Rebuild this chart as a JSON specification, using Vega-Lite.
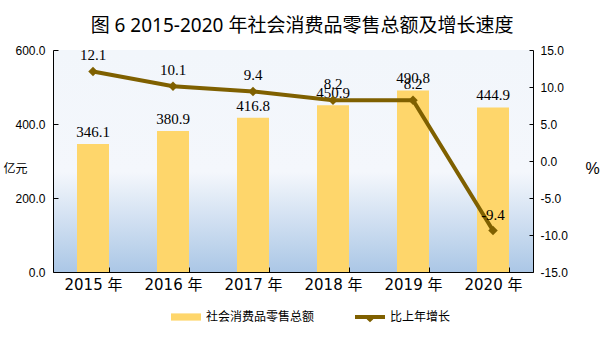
{
  "$schema": "https://vega.github.io/schema/vega-lite/v6.json",
  "width": 480,
  "height": 222,
  "autosize": "none",
  "padding": {"left": 53, "top": 50, "right": 72, "bottom": 68},
  "background": "white",
  "view": {
    "stroke": null,
    "fill": {
      "gradient": "linear", "x1": 0, "y1": 0, "x2": 0, "y2": 1,
      "stops": [
        {"offset": 0, "color": "#f2f6fb"},
        {"offset": 0.55, "color": "#f4f7fc"},
        {"offset": 1, "color": "#abc7e6"}
      ]
    }
  },
  "title": {
    "text": "图 6 2015-2020 年社会消费品零售总额及增长速度",
    "font": "Noto Sans, Noto Sans CJK SC",
    "fontSize": 19,
    "fontWeight": "normal",
    "color": "#000000",
    "anchor": "middle",
    "dx": 9,
    "offset": 8
  },
  "data": {
    "values": [
      {"year": "2015 年", "amount": 346.1, "growth": 12.1},
      {"year": "2016 年", "amount": 380.9, "growth": 10.1},
      {"year": "2017 年", "amount": 416.8, "growth": 9.4},
      {"year": "2018 年", "amount": 450.9, "growth": 8.2},
      {"year": "2019 年", "amount": 490.8, "growth": 8.2},
      {"year": "2020 年", "amount": 444.9, "growth": -9.4}
    ]
  },
  "encoding": {
    "x": {
      "field": "year", "type": "nominal", "sort": null,
      "scale": {"paddingInner": 0.6, "paddingOuter": 0.3},
      "axis": {
        "title": null, "labelAngle": 0, "tickBand": "extent",
        "tickSize": -5, "tickColor": "#000000", "domainColor": "#000000",
        "labelPadding": 10, "labelFont": "DejaVu Sans, Noto Sans CJK SC",
        "labelFontSize": 15, "labelColor": "#000000"
      }
    }
  },
  "layer": [
    {
      "encoding": {
        "y": {
          "field": "amount", "type": "quantitative",
          "scale": {"domain": [0, 600], "nice": false, "zero": false},
          "axis": {
            "title": "亿元", "titleAngle": 0, "titleX": -38, "titleY": 118,
            "titleAlign": "center", "titleBaseline": "middle",
            "titleFont": "Noto Sans CJK SC", "titleFontSize": 12, "titleFontWeight": "normal", "titleColor": "#000000",
            "values": [0, 200, 400, 600], "grid": false, "labelOverlap": false,
            "tickSize": -5, "labelPadding": 13, "tickColor": "#000000", "domainColor": "#000000",
            "labelFont": "Liberation Sans", "labelFontSize": 12, "labelColor": "#000000",
            "labelExpr": "format(datum.value, '.1f')"
          }
        }
      },
      "layer": [
        {
          "mark": {"type": "bar", "color": "#fed66b"},
          "encoding": {
            "color": {
              "datum": "社会消费品零售总额", "type": "nominal",
              "legend": {
                "encode": {
                  "symbols": {
                    "update": {
                      "shape": {"signal": "datum.value === '比上年增长' ? 'M-1,-0.13L1,-0.13L1,0.13L-1,0.13Z M0,-0.05L0.22,0.15L0,0.35L-0.22,0.15Z' : 'M-1,-0.24L1,-0.24L1,0.24L-1,0.24Z'"},
                      "fill": {"signal": "datum.value === '比上年增长' ? '#7f6000' : '#fed66b'"},
                      "stroke": {"value": "transparent"},
                      "strokeWidth": {"value": 0},
                      "opacity": {"value": 1},
                      "size": {"value": 900}
                    }
                  }
                }
              }
            }
          }
        },
        {
          "mark": {"type": "text", "baseline": "alphabetic", "dy": -7, "font": "Liberation Serif", "fontSize": 15, "color": "#000000"},
          "encoding": {
            "text": {"field": "amount", "type": "nominal"}
          }
        }
      ]
    },
    {
      "encoding": {
        "y": {
          "field": "growth", "type": "quantitative",
          "scale": {"domain": [-15, 15], "nice": false, "zero": false},
          "axis": {
            "orient": "right",
            "title": "%", "titleAngle": 0, "titleX": 59, "titleY": 118,
            "titleAlign": "center", "titleBaseline": "middle",
            "titleFont": "Liberation Sans", "titleFontSize": 16, "titleFontWeight": "normal", "titleColor": "#000000",
            "values": [-15, -10, -5, 0, 5, 10, 15], "grid": false, "labelOverlap": false,
            "tickSize": -4, "labelPadding": 11, "tickColor": "#000000", "domainColor": "#000000",
            "labelFont": "Liberation Sans", "labelFontSize": 12, "labelColor": "#000000",
            "labelExpr": "replace(format(datum.value, '.1f'), '−', '-')"
          }
        }
      },
      "layer": [
        {
          "mark": {"type": "line", "color": "#7f6000", "strokeWidth": 4, "point": {"shape": "diamond", "size": 90, "filled": true, "color": "#7f6000"}},
          "encoding": {
            "color": {
              "datum": "比上年增长", "type": "nominal",
              "legend": {
                "encode": {
                  "symbols": {
                    "update": {
                      "shape": {"signal": "datum.value === '比上年增长' ? 'M-1,-0.13L1,-0.13L1,0.13L-1,0.13Z M0,-0.05L0.22,0.15L0,0.35L-0.22,0.15Z' : 'M-1,-0.24L1,-0.24L1,0.24L-1,0.24Z'"},
                      "fill": {"signal": "datum.value === '比上年增长' ? '#7f6000' : '#fed66b'"},
                      "stroke": {"value": "transparent"},
                      "strokeWidth": {"value": 0},
                      "opacity": {"value": 1},
                      "size": {"value": 900}
                    }
                  }
                }
              }
            }
          }
        },
        {
          "mark": {"type": "text", "baseline": "alphabetic", "dy": -11, "font": "Liberation Serif", "fontSize": 15, "color": "#000000"},
          "encoding": {
            "text": {"field": "growth", "type": "nominal"}
          }
        }
      ]
    }
  ],
  "resolve": {"scale": {"y": "independent"}, "axis": {"y": "independent"}},
  "config": {
    "axis": {"domainWidth": 1, "tickWidth": 1},
    "legend": {
      "orient": "none", "legendX": 118, "legendY": 252, "direction": "horizontal",
      "title": null, "padding": 0, "columnPadding": 40, "symbolSize": 900,
      "labelFont": "Noto Sans CJK SC", "labelFontSize": 12, "labelColor": "#000000", "labelOffset": 5
    },
    "range": {"category": ["#fed66b", "#7f6000"]}
  }
}
